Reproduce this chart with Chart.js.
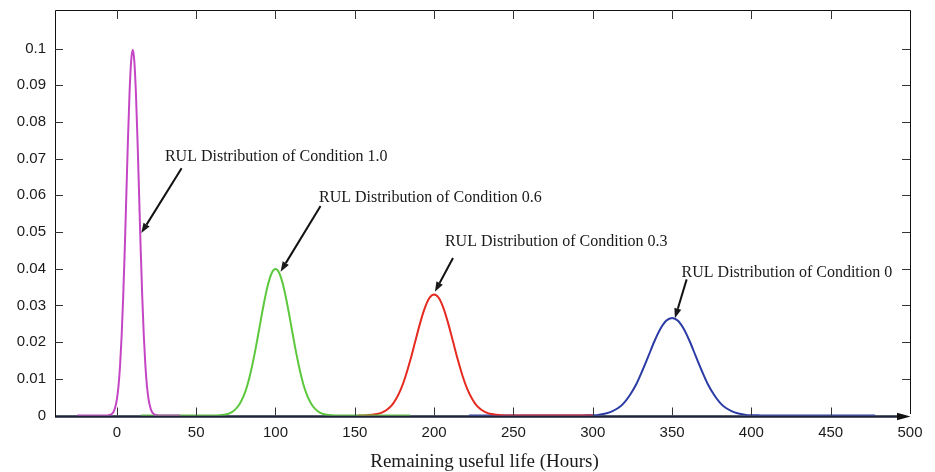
<!DOCTYPE html>
<html>
<head>
<meta charset="utf-8">
<script src="https://cdn.jsdelivr.net/npm/chart.js@4/dist/chart.umd.min.js"></script>
<style>
  html, body { margin: 0; padding: 0; background: #fff; }
  canvas { display: block; }
</style>
</head>
<body>
<canvas id="rul" width="935" height="472"></canvas>
<script>
// Remaining useful life (hours) and probability density for each condition
const cond10Hours = [-25, -6, -5, -4, -3, -2, -1, 0, 1, 2, 3, 4, 5, 6, 7, 8, 9, 10, 11, 12, 13, 14, 15, 16, 17, 18, 19, 20, 21, 22, 23, 24, 25, 26, 40];
const cond10Density = [0, 0, 0.0001, 0.0002, 0.0005, 0.0011, 0.0023, 0.0044, 0.0079, 0.0135, 0.0216, 0.0324, 0.0456, 0.0605, 0.0753, 0.0880, 0.0966, 0.0997,
  0.0966, 0.0880, 0.0753, 0.0605, 0.0456, 0.0324, 0.0216, 0.0135, 0.0079, 0.0044, 0.0023, 0.0011, 0.0005, 0.0002, 0.0001, 0, 0];

const cond06Hours = [15, 60, 62.5, 65, 67.5, 70, 72.5, 75, 77.5, 80, 82.5, 85, 87.5, 90, 92.5, 95, 97.5, 100,
  102.5, 105, 107.5, 110, 112.5, 115, 117.5, 120, 122.5, 125, 127.5, 130, 132.5, 135, 137.5, 140, 185];
const cond06Density = [0, 0, 0, 0.0001, 0.0002, 0.0004, 0.0009, 0.0018, 0.0032, 0.0054, 0.0086, 0.0130, 0.0183, 0.0242, 0.0301, 0.0352, 0.0387, 0.0399,
  0.0387, 0.0352, 0.0301, 0.0242, 0.0183, 0.0130, 0.0086, 0.0054, 0.0032, 0.0018, 0.0009, 0.0004, 0.0002, 0.0001, 0, 0, 0];

const cond03Hours = [152, 155, 158, 161, 164, 167, 170, 173, 176, 179, 182, 185, 188, 191, 194, 197, 200,
  203, 206, 209, 212, 215, 218, 221, 224, 227, 230, 233, 236, 239, 242, 245, 248, 300];
const cond03Density = [0, 0, 0.0001, 0.0002, 0.0004, 0.0008, 0.0015, 0.0026, 0.0045, 0.0071, 0.0107, 0.0151, 0.0200, 0.0249, 0.0291, 0.0320, 0.0330,
  0.0320, 0.0291, 0.0249, 0.0200, 0.0151, 0.0107, 0.0071, 0.0045, 0.0026, 0.0015, 0.0008, 0.0004, 0.0002, 0.0001, 0, 0, 0];

const cond0Hours = [222, 290, 293.75, 297.5, 301.25, 305, 308.75, 312.5, 316.25, 320, 323.75, 327.5, 331.25, 335, 338.75, 342.5, 346.25, 350,
  353.75, 357.5, 361.25, 365, 368.75, 372.5, 376.25, 380, 383.75, 387.5, 391.25, 395, 398.75, 402.5, 406.25, 410, 478];
const cond0Density = [0, 0, 0, 0.0001, 0.0001, 0.0003, 0.0006, 0.0012, 0.0021, 0.0036, 0.0058, 0.0086, 0.0122, 0.0161, 0.0201, 0.0235, 0.0258, 0.0266,
  0.0258, 0.0235, 0.0201, 0.0161, 0.0122, 0.0086, 0.0058, 0.0036, 0.0021, 0.0012, 0.0006, 0.0003, 0.0001, 0.0001, 0, 0, 0];

const xTickValues = [0, 50, 100, 150, 200, 250, 300, 350, 400, 450, 500];
const yTickValues = [0, 0.01, 0.02, 0.03, 0.04, 0.05, 0.06, 0.07, 0.08, 0.09, 0.1];
const yTickLabels = ['0', '0.01', '0.02', '0.03', '0.04', '0.05', '0.06', '0.07', '0.08', '0.09', '0.1'];

const xTitle = 'Remaining useful life (Hours)';

// Callout text with the arrow that points at each curve (data units)
const callouts = [
  { text: 'RUL Distribution of Condition 1.0', at: [30.3, 0.0693], from: [40.8, 0.0674], to: [15.4, 0.0497] },
  { text: 'RUL Distribution of Condition 0.6', at: [127.4, 0.0583], from: [128.4, 0.0571], to: [103.2, 0.0392] },
  { text: 'RUL Distribution of Condition 0.3', at: [206.8, 0.0462], from: [211.9, 0.0429], to: [200.5, 0.0337] },
  { text: 'RUL Distribution of Condition 0', at: [356.0, 0.0378], from: [359.2, 0.0371], to: [351.8, 0.0265] }
];

const toPoints = (xs, ys) => xs.map((x, i) => ({ x: x, y: ys[i] }));

const curve = (label, xs, ys, color) => ({
  label: label,
  data: toPoints(xs, ys),
  borderColor: color,
  borderWidth: 2,
  pointRadius: 0,
  fill: false,
  cubicInterpolationMode: 'monotone'
});

const frameAndNotes = {
  id: 'frameAndNotes',
  beforeDatasetsDraw(chart) {
    const { ctx, chartArea: a, scales: { y } } = chart;
    const y0 = y.getPixelForValue(0) + 1;
    ctx.save();
    ctx.strokeStyle = '#1e2438';
    ctx.lineWidth = 2.5;
    ctx.beginPath();
    ctx.moveTo(a.left, y0);
    ctx.lineTo(a.right - 10, y0);
    ctx.stroke();
    ctx.restore();
  },
  afterDraw(chart) {
    const { ctx, chartArea: a, scales: { x, y } } = chart;
    ctx.save();
    // frame
    ctx.strokeStyle = '#111';
    ctx.lineWidth = 1;
    ctx.beginPath();
    ctx.moveTo(Math.round(a.left) + 0.5, Math.round(a.bottom) + 1);
    ctx.lineTo(Math.round(a.left) + 0.5, Math.round(a.top) + 0.5);
    ctx.lineTo(Math.round(a.right) + 0.5, Math.round(a.top) + 0.5);
    ctx.lineTo(Math.round(a.right) + 0.5, Math.round(a.bottom) - 2);
    ctx.stroke();

    // inward tick marks on all four sides
    ctx.strokeStyle = '#333';
    xTickValues.forEach(v => {
      const px = Math.round(x.getPixelForValue(v)) + 0.5;
      if (px >= a.right - 1) return;
      ctx.beginPath();
      ctx.moveTo(px, a.bottom);
      ctx.lineTo(px, a.bottom - 8);
      ctx.moveTo(px, a.top);
      ctx.lineTo(px, a.top + 9);
      ctx.stroke();
    });
    yTickValues.forEach(v => {
      if (v === 0) return;
      const py = Math.round(y.getPixelForValue(v)) + 0.5;
      ctx.beginPath();
      ctx.moveTo(a.left, py);
      ctx.lineTo(a.left + 8, py);
      ctx.moveTo(a.right, py);
      ctx.lineTo(a.right - 8, py);
      ctx.stroke();
    });

    // arrow head of the horizontal axis
    const y0 = y.getPixelForValue(0) + 1;
    ctx.fillStyle = '#111';
    ctx.beginPath();
    ctx.moveTo(a.right + 0.5, y0);
    ctx.lineTo(a.right - 13, y0 - 3.8);
    ctx.lineTo(a.right - 13, y0 + 3.8);
    ctx.closePath();
    ctx.fill();

    // callouts
    ctx.font = '16px "Liberation Serif", "Times New Roman", serif';
    ctx.fillStyle = '#1a1a1a';
    ctx.textAlign = 'left';
    ctx.textBaseline = 'alphabetic';
    callouts.forEach(c => {
      ctx.fillText(c.text, x.getPixelForValue(c.at[0]), y.getPixelForValue(c.at[1]));
      const x1 = x.getPixelForValue(c.from[0]), y1 = y.getPixelForValue(c.from[1]);
      const x2 = x.getPixelForValue(c.to[0]), y2 = y.getPixelForValue(c.to[1]);
      const ang = Math.atan2(y2 - y1, x2 - x1);
      const head = 10, half = 3.6;
      const bx = x2 - head * Math.cos(ang), by = y2 - head * Math.sin(ang);
      ctx.strokeStyle = '#111';
      ctx.lineWidth = 2;
      ctx.beginPath();
      ctx.moveTo(x1, y1);
      ctx.lineTo(bx, by);
      ctx.stroke();
      ctx.beginPath();
      ctx.moveTo(x2, y2);
      ctx.lineTo(bx + half * Math.sin(ang), by - half * Math.cos(ang));
      ctx.lineTo(bx - half * Math.sin(ang), by + half * Math.cos(ang));
      ctx.closePath();
      ctx.fill();
    });

    // horizontal axis title
    ctx.font = '19px "Liberation Serif", "Times New Roman", serif';
    ctx.textAlign = 'center';
    ctx.fillText(xTitle, (a.left + a.right) / 2 + 2, 467);
    ctx.restore();
  }
};

new Chart(document.getElementById('rul'), {
  type: 'line',
  data: {
    datasets: [
      curve('Condition 1.0', cond10Hours, cond10Density, '#c446c4'),
      curve('Condition 0.6', cond06Hours, cond06Density, '#5cc83c'),
      curve('Condition 0.3', cond03Hours, cond03Density, '#e52a20'),
      curve('Condition 0', cond0Hours, cond0Density, '#2c3ca6')
    ]
  },
  options: {
    responsive: false,
    animation: false,
    layout: { padding: { left: 0, right: 25, top: 10, bottom: 0 } },
    plugins: { legend: { display: false }, tooltip: { enabled: false } },
    scales: {
      x: {
        type: 'linear',
        min: -39,
        max: 500,
        border: { display: false },
        grid: { display: false, drawTicks: false },
        afterBuildTicks: s => { s.ticks = xTickValues.map(v => ({ value: v })); },
        afterFit: s => { s.height = 56.5; },
        ticks: {
          autoSkip: false,
          maxRotation: 0,
          padding: 8,
          color: '#1a1a1a',
          font: { family: '"Liberation Sans", Arial, sans-serif', size: 15 },
          callback: v => String(v)
        }
      },
      y: {
        type: 'linear',
        min: 0,
        max: 0.1105,
        border: { display: false },
        grid: { display: false, drawTicks: false },
        afterBuildTicks: s => { s.ticks = yTickValues.map(v => ({ value: v })); },
        afterFit: s => { s.width = 55; s.paddingTop = 0; s.paddingBottom = 0; },
        ticks: {
          autoSkip: false,
          padding: 9,
          color: '#1a1a1a',
          font: { family: '"Liberation Sans", Arial, sans-serif', size: 15 },
          callback: (v, i) => yTickLabels[i]
        }
      }
    }
  },
  plugins: [frameAndNotes]
});
</script>
</body>
</html>
